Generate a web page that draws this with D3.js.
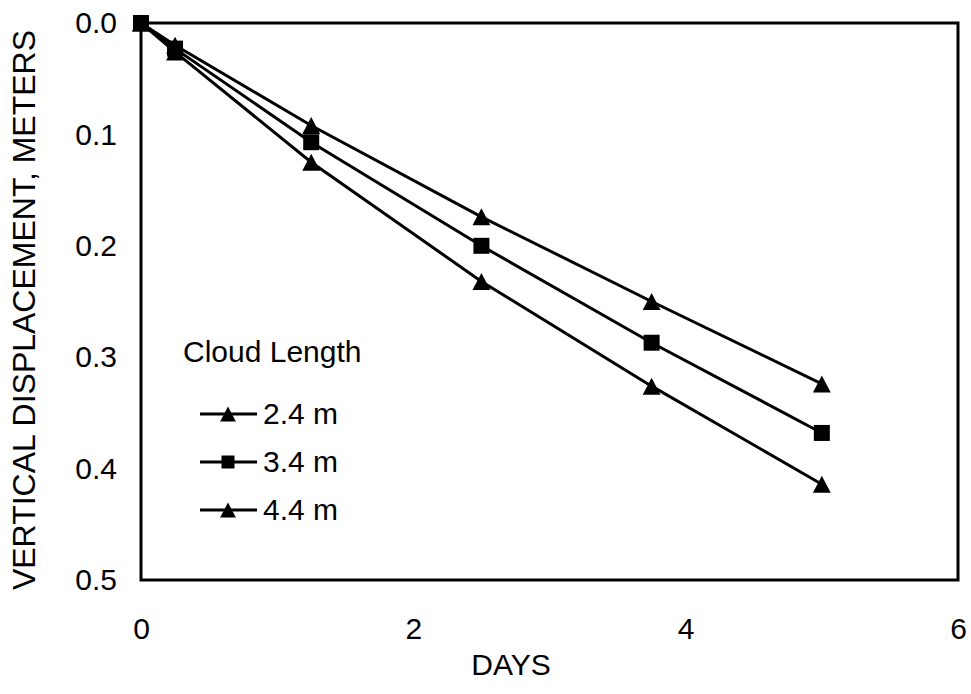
<!DOCTYPE html>
<html>
<head>
<meta charset="utf-8">
<script src="https://cdn.jsdelivr.net/npm/d3@7"></script>
<style>
  html, body { margin: 0; padding: 0; background: #fff; }
  svg { display: block; font-family: "Liberation Sans", Arial, Helvetica, sans-serif; }
</style>
</head>
<body>
<svg id="chart" width="971" height="694"></svg>
<script>
// Settlement over time for three cloud lengths
const days = [0, 0.25, 1.25, 2.5, 3.75, 5];
const disp24 = [0, 0.020, 0.092, 0.174, 0.250, 0.324];
const disp34 = [0, 0.023, 0.107, 0.200, 0.287, 0.368];
const disp44 = [0, 0.026, 0.125, 0.232, 0.326, 0.414];
const seriesNames = ["2.4 m", "3.4 m", "4.4 m"];
const seriesMarkers = ["triangle", "square", "triangle"];
const xTicks = [0, 2, 4, 6];
const yTicks = [0.0, 0.1, 0.2, 0.3, 0.4, 0.5];

const series = [disp24, disp34, disp44].map((vals, i) => ({
  name: seriesNames[i],
  marker: seriesMarkers[i],
  points: days.map((d, j) => ({ x: d, y: vals[j] }))
}));

const svg = d3.select("#chart");
const plotLeft = 141, plotRight = 958, plotTop = 23, plotBottom = 580;

const x = d3.scaleLinear().domain([0, 6]).range([plotLeft, plotRight]);
const y = d3.scaleLinear().domain([0, 0.5]).range([plotTop, plotBottom]);

// Plot frame
svg.append("rect")
  .attr("x", plotLeft).attr("y", plotTop)
  .attr("width", plotRight - plotLeft).attr("height", plotBottom - plotTop)
  .attr("fill", "none").attr("stroke", "#000").attr("stroke-width", 3);

// Axes: labels only, no tick marks
const xAxis = d3.axisBottom(x).tickValues(xTicks).tickSize(0).tickPadding(38)
  .tickFormat(d3.format("d"));
const gx = svg.append("g").attr("transform", `translate(0,${plotBottom})`).call(xAxis);
gx.select(".domain").remove();
gx.selectAll("text").attr("font-size", 30).attr("fill", "#000");
gx.attr("font-family", null);

const yAxis = d3.axisLeft(y).tickValues(yTicks).tickSize(0).tickPadding(24)
  .tickFormat(d3.format(".1f"));
const gy = svg.append("g").attr("transform", `translate(${plotLeft},0)`).call(yAxis);
gy.select(".domain").remove();
gy.selectAll("text").attr("font-size", 30).attr("fill", "#000");
gy.attr("font-family", null);

// Axis titles
svg.append("text")
  .attr("x", 511).attr("y", 675)
  .attr("text-anchor", "middle").attr("font-size", 30)
  .text("DAYS");

svg.append("text")
  .attr("transform", "translate(35,310) rotate(-90)")
  .attr("text-anchor", "middle").attr("font-size", 32)
  .text("VERTICAL DISPLACEMENT, METERS");

// Marker shapes
function markerPath(type, s) {
  if (type === "square") {
    const h = s / 2;
    return `M${-h},${-h}H${h}V${h}H${-h}Z`;
  }
  const w = s * 1.05 / 2, h = s / 2;
  return `M0,${-h}L${w},${h}L${-w},${h}Z`;
}

const line = d3.line().x(d => x(d.x)).y(d => y(d.y));

const gs = svg.append("g").selectAll("g").data(series).join("g");
gs.append("path")
  .attr("d", d => line(d.points))
  .attr("fill", "none").attr("stroke", "#000").attr("stroke-width", 3);
gs.selectAll("path.mk")
  .data(d => d.points.map(p => ({ ...p, marker: d.marker })))
  .join("path")
  .attr("class", "mk")
  .attr("transform", d => `translate(${x(d.x)},${y(d.y)})`)
  .attr("d", d => markerPath(d.marker, d.marker === "square" ? 16 : 17))
  .attr("fill", "#000");

// Legend
const lg = svg.append("g");
lg.append("text").attr("x", 183).attr("y", 362).attr("font-size", 30).text("Cloud Length");
const legY = [414, 462, 510];
series.forEach((s, i) => {
  const g = lg.append("g").attr("transform", `translate(0,${legY[i]})`);
  g.append("line").attr("x1", 200).attr("x2", 257).attr("y1", 0).attr("y2", 0)
    .attr("stroke", "#000").attr("stroke-width", 3);
  g.append("path").attr("transform", "translate(228,0)")
    .attr("d", markerPath(s.marker, s.marker === "square" ? 13 : 15)).attr("fill", "#000");
  g.append("text").attr("x", 263).attr("y", 10).attr("font-size", 30).text(s.name);
});
</script>
</body>
</html>
